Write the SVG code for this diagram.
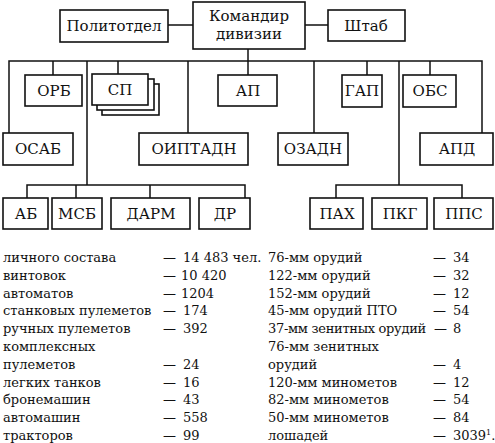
<svg xmlns="http://www.w3.org/2000/svg" width="495" height="443" viewBox="0 0 495 443">
<style>
.b{fill:#fff;stroke:#111;stroke-width:1.6}
.c{fill:none;stroke:#111;stroke-width:1.5}
.t{font-family:"DejaVu Serif","Liberation Serif",serif;font-size:15px;fill:#111;text-anchor:middle}
.s{font-family:"DejaVu Serif","Liberation Serif",serif;font-size:13px;fill:#111}
</style>
<rect width="495" height="443" fill="#fff"/>
<g id="connectors" class="c">
<path d="M168 25H193M305 25H328"/>
<path d="M248 49V75"/>
<path d="M9 133V61H482V133"/>
<path d="M53 61V75M118 61V74M87 61V185M188 61V133"/>
<path d="M314 61V133M367 61V75M399 61V185M430 61V75"/>
<path d="M27 198V185H245V198M76 185V198M150 185V198"/>
<path d="M336 198V185H462V198"/>
</g>
<g id="politotdel"><rect class="b" x="60" y="10" width="108" height="32"/><text class="t" x="114" y="31">Политотдел</text></g>
<g id="commander"><rect class="b" x="193" y="2" width="112" height="47"/><text class="t" x="249" y="21">Командир</text><text class="t" x="249" y="39">дивизии</text></g>
<g id="shtab"><rect class="b" x="328" y="10" width="77" height="31"/><text class="t" x="366" y="31">Штаб</text></g>
<g id="orb"><rect class="b" x="25" y="75" width="57" height="31"/><text class="t" x="54" y="96">ОРБ</text></g>
<g id="sp"><rect class="b" x="102" y="84" width="57" height="31"/><rect class="b" x="97" y="79" width="57" height="31"/><rect class="b" x="92" y="74" width="56" height="31"/><text class="t" x="120" y="95">СП</text></g>
<g id="ap"><rect class="b" x="218" y="75" width="59" height="31"/><text class="t" x="248" y="96">АП</text></g>
<g id="gap"><rect class="b" x="342" y="75" width="40" height="32"/><text class="t" x="362" y="96">ГАП</text></g>
<g id="obs"><rect class="b" x="403" y="75" width="53" height="32"/><text class="t" x="430" y="96">ОБС</text></g>
<g id="osab"><rect class="b" x="3" y="133" width="70" height="32"/><text class="t" x="38" y="154">ОСАБ</text></g>
<g id="oiptadn"><rect class="b" x="139" y="133" width="109" height="32"/><text class="t" x="194" y="154">ОИПТАДН</text></g>
<g id="ozadn"><rect class="b" x="278" y="133" width="70" height="32"/><text class="t" x="313" y="154">ОЗАДН</text></g>
<g id="apd"><rect class="b" x="420" y="133" width="73" height="32"/><text class="t" x="457" y="154">АПД</text></g>
<g id="ab"><rect class="b" x="3" y="198" width="45" height="31"/><text class="t" x="26" y="219">АБ</text></g>
<g id="msb"><rect class="b" x="52" y="198" width="50" height="31"/><text class="t" x="77" y="219">МСБ</text></g>
<g id="darm"><rect class="b" x="111" y="198" width="79" height="31"/><text class="t" x="151" y="219">ДАРМ</text></g>
<g id="dr"><rect class="b" x="199" y="198" width="51" height="31"/><text class="t" x="225" y="219">ДР</text></g>
<g id="pah"><rect class="b" x="310" y="198" width="53" height="31"/><text class="t" x="337" y="219">ПАХ</text></g>
<g id="pkg"><rect class="b" x="372" y="198" width="55" height="31"/><text class="t" x="400" y="219">ПКГ</text></g>
<g id="pps"><rect class="b" x="434" y="198" width="59" height="31"/><text class="t" x="464" y="219">ППС</text></g>
<g id="stats-left" class="s">
<text x="3" y="262">личного состава</text><text x="163" y="262">—</text><text x="183" y="262">14 483 чел.</text>
<text x="3" y="280">винтовок</text><text x="163" y="280">—</text><text x="181" y="280">10 420</text>
<text x="3" y="298">автоматов</text><text x="163" y="298">—</text><text x="181" y="298">1204</text>
<text x="3" y="315">станковых пулеметов</text><text x="163" y="315">—</text><text x="183" y="315">174</text>
<text x="3" y="333">ручных пулеметов</text><text x="163" y="333">—</text><text x="183" y="333">392</text>
<text x="3" y="351">комплексных</text>
<text x="3" y="369">пулеметов</text><text x="163" y="369">—</text><text x="183" y="369">24</text>
<text x="3" y="387">легких танков</text><text x="163" y="387">—</text><text x="183" y="387">16</text>
<text x="3" y="404">бронемашин</text><text x="163" y="404">—</text><text x="183" y="404">43</text>
<text x="3" y="422">автомашин</text><text x="163" y="422">—</text><text x="183" y="422">558</text>
<text x="3" y="440">тракторов</text><text x="163" y="440">—</text><text x="183" y="440">99</text>
</g>
<g id="stats-right" class="s">
<text x="268" y="262">76-мм орудий</text><text x="433" y="262">—</text><text x="453" y="262">34</text>
<text x="268" y="280">122-мм орудий</text><text x="433" y="280">—</text><text x="453" y="280">32</text>
<text x="268" y="298">152-мм орудий</text><text x="433" y="298">—</text><text x="453" y="298">12</text>
<text x="268" y="315">45-мм орудий ПТО</text><text x="433" y="315">—</text><text x="453" y="315">54</text>
<text x="268" y="333" letter-spacing="-0.3">37-мм зенитных орудий</text><text x="434" y="333">—</text><text x="453" y="333">8</text>
<text x="268" y="351">76-мм зенитных</text>
<text x="268" y="369">орудий</text><text x="433" y="369">—</text><text x="453" y="369">4</text>
<text x="268" y="387">120-мм минометов</text><text x="433" y="387">—</text><text x="453" y="387">12</text>
<text x="268" y="404">82-мм минометов</text><text x="433" y="404">—</text><text x="453" y="404">54</text>
<text x="268" y="422">50-мм минометов</text><text x="433" y="422">—</text><text x="453" y="422">84</text>
<text x="268" y="440">лошадей</text><text x="433" y="440">—</text><text x="453" y="440">3039<tspan font-size="8" dy="-5">1</tspan><tspan dy="5">.</tspan></text>
</g>
</svg>
